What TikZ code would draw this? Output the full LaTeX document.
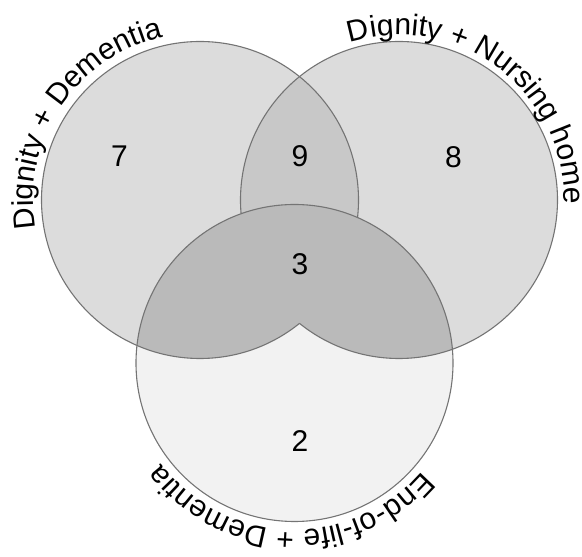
\documentclass[tikz,border=0pt]{standalone}
\usepackage{fontspec}
\setmainfont{Liberation Sans}
\usetikzlibrary{decorations.text}
\definecolor{vgLight}{HTML}{DCDCDC}
\definecolor{vgMid}{HTML}{C8C8C8}
\definecolor{vgDark}{HTML}{BABABA}
\definecolor{vgPale}{HTML}{F2F2F2}
\definecolor{vgEdge}{HTML}{747474}
\begin{document}
\begin{tikzpicture}[x=1pt,y=1pt,
  outline/.style={draw=vgEdge, line width=1.1pt},
  num/.style={font=\fontsize{30}{36}\selectfont, inner sep=0pt},
  arclabel/.style={decorate, decoration={text along path, text align=center, text={|\fontsize{30}{36}\selectfont|#1}}}]
\useasboundingbox (0,0) rectangle (582,557);
\def\r{158.5}
\def\rt{167}
\coordinate (L) at (200,357);
\coordinate (R) at (399,357);
\coordinate (B) at (294.5,194);
% top circles
\fill[vgLight] (L) circle[radius=\r];
\fill[vgLight] (R) circle[radius=\r];
\begin{scope}
  \clip (L) circle[radius=\r];
  \fill[vgMid] (R) circle[radius=\r];
\end{scope}
\draw[outline] (L) circle[radius=\r];
\draw[outline] (R) circle[radius=\r];
% bottom circle
\fill[vgPale] (B) circle[radius=\r];
\begin{scope}
  \clip (B) circle[radius=\r];
  \fill[vgDark] (L) circle[radius=\r];
  \fill[vgDark] (R) circle[radius=\r];
\end{scope}
\begin{scope}[even odd rule]
  \clip (B) circle[radius=\r];
  \clip (R) circle[radius=\r] (-20,-20) rectangle (620,620);
  \draw[outline] (L) circle[radius=\r];
\end{scope}
\begin{scope}[even odd rule]
  \clip (B) circle[radius=\r];
  \clip (L) circle[radius=\r] (-20,-20) rectangle (620,620);
  \draw[outline] (R) circle[radius=\r];
\end{scope}
\draw[outline] (B) circle[radius=\r];
% numbers
\node[num] (n7) at (119.5,401) {7};
\node[num] (n9) at (300,401) {9};
\node[num] (n8) at (453.5,400) {8};
\node[num] (n3) at (300,293) {3};
\node[num] (n2) at (300,116) {2};
% labels
\path[arclabel={Dignity + Dementia}] (L) ++(206.2:\rt) arc[start angle=206.2, end angle=86.2, radius=\rt];
\path[arclabel={Dignity + Nursing home}] (R) ++(123:165) arc[start angle=123, end angle=-17, radius=165];
\path[arclabel={End-of-life + Dementia}] (B) ++(-21.6:\rt) arc[start angle=-21.6, end angle=-161.6, radius=\rt];
\end{tikzpicture}
\end{document}
